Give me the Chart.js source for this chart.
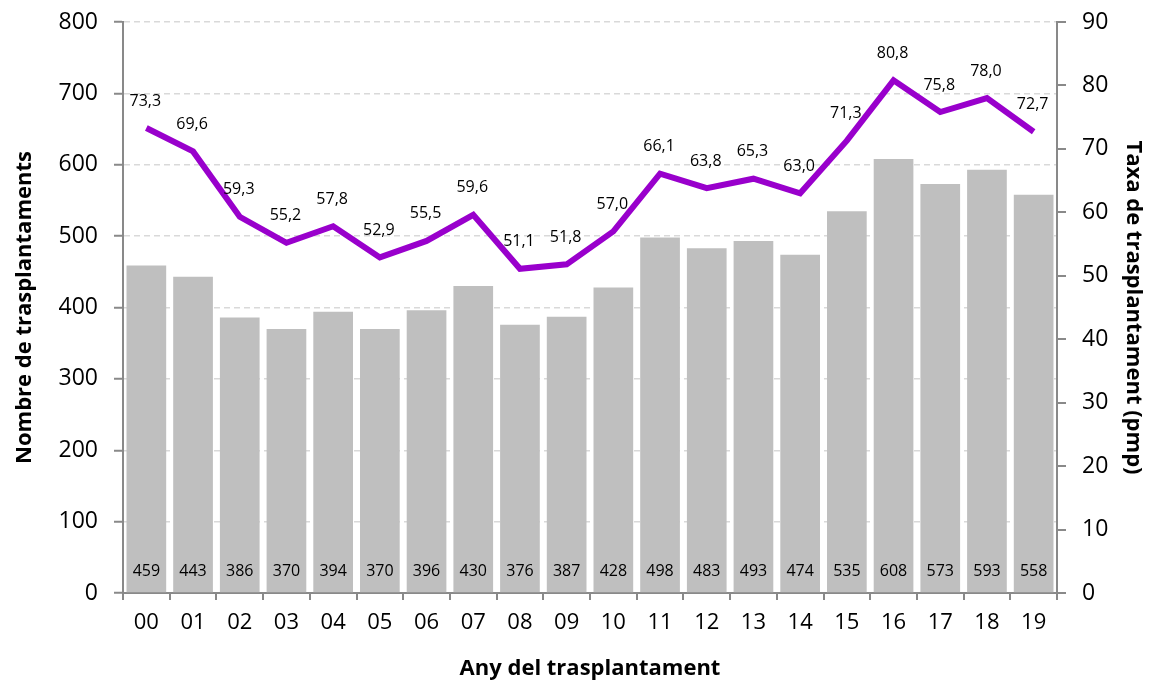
<!DOCTYPE html>
<html>
<head>
<meta charset="utf-8">
<script src="https://cdn.jsdelivr.net/npm/chart.js@4"></script>
<style>
  html, body { margin: 0; padding: 0; background: #fff; }
  #wrap { width: 1150px; height: 682px; }
</style>
</head>
<body>
<div id="wrap"><canvas id="chart" width="1150" height="682"></canvas></div>
<script>
const years = ["00","01","02","03","04","05","06","07","08","09","10","11","12","13","14","15","16","17","18","19"];
const transplants = [459,443,386,370,394,370,396,430,376,387,428,498,483,493,474,535,608,573,593,558];
const rates = [73.3,69.6,59.3,55.2,57.8,52.9,55.5,59.6,51.1,51.8,57.0,66.1,63.8,65.3,63.0,71.3,80.8,75.8,78.0,72.7];

const FONT = "'Open Sans', sans-serif";

/* etiquetes de dades */
const labelPlugin = {
  id: "labels",
  afterDatasetsDraw(chart) {
    const ctx = chart.ctx;
    ctx.save();
    ctx.fillStyle = "#000";
    ctx.textAlign = "center";
    ctx.textBaseline = "middle";
    ctx.font = "16px " + FONT;

    chart.getDatasetMeta(0).data.forEach((bar, i) => {
      ctx.fillText(transplants[i], bar.x, chart.chartArea.bottom - 22);
    });

    chart.getDatasetMeta(1).data.forEach((pt, i) => {
      ctx.fillText(rates[i].toFixed(1).replace(".", ","), pt.x - 1, pt.y - 27);
    });
    ctx.restore();
  }
};

/* amplada fixa dels eixos verticals */
function fixY(width) {
  return s => {
    s.width = width;
    s.paddingTop = 0;
    s.paddingBottom = 0;
  };
}

new Chart(document.getElementById("chart"), {
  data: {
    labels: years,
    datasets: [
      {
        type: "bar",
        data: transplants,
        backgroundColor: "#bfbfbf",
        yAxisID: "y",
        categoryPercentage: 1,
        barPercentage: 0.85,
        order: 2
      },
      {
        type: "line",
        data: rates,
        borderColor: "#9900cc",
        borderWidth: 6,
        pointRadius: 0,
        tension: 0,
        yAxisID: "y1",
        order: 1
      }
    ]
  },
  options: {
    responsive: false,
    animation: false,
    layout: { padding: { top: 22, right: 0, left: 0, bottom: 0 } },
    plugins: { legend: { display: false }, tooltip: { enabled: false } },
    scales: {
      x: {
        offset: true,
        grid: { drawOnChartArea: false, offset: true, tickLength: 7, color: "#898989", lineWidth: 2 },
        border: { color: "#898989", width: 2 },
        ticks: { color: "#000", font: { family: FONT, size: 22 }, padding: 10 },
        title: { display: true, text: "Any del trasplantament", color: "#000",
                 font: { family: FONT, size: 22, weight: "bold" }, padding: { top: 16, bottom: 0 } },
        afterFit(s) { s.height = 89; }
      },
      y: {
        position: "left",
        min: 0, max: 800,
        ticks: { stepSize: 100, color: "#000", font: { family: FONT, size: 23 }, padding: 16 },
        grid: { color: "#d9d9d9", lineWidth: 1.5, tickLength: 9, tickColor: "#898989", tickBorderDash: [], tickWidth: 2 },
        border: { color: "#898989", width: 2, dash: [6, 4] },
        title: { display: true, text: "Nombre de trasplantaments", color: "#000",
                 font: { family: FONT, size: 22, weight: "bold" }, padding: { top: 12 } },
        afterFit: fixY(123)
      },
      y1: {
        position: "right",
        min: 0, max: 90,
        ticks: { stepSize: 10, color: "#000", font: { family: FONT, size: 23 }, padding: 16 },
        grid: { drawOnChartArea: false, tickLength: 9, color: "#898989", lineWidth: 2 },
        border: { color: "#898989", width: 2 },
        title: { display: true, text: "Taxa de trasplantament (pmp)", color: "#000",
                 font: { family: FONT, size: 22, weight: "bold" } },
        afterFit: fixY(93)
      }
    }
  },
  plugins: [labelPlugin]
});
</script>
</body>
</html>
